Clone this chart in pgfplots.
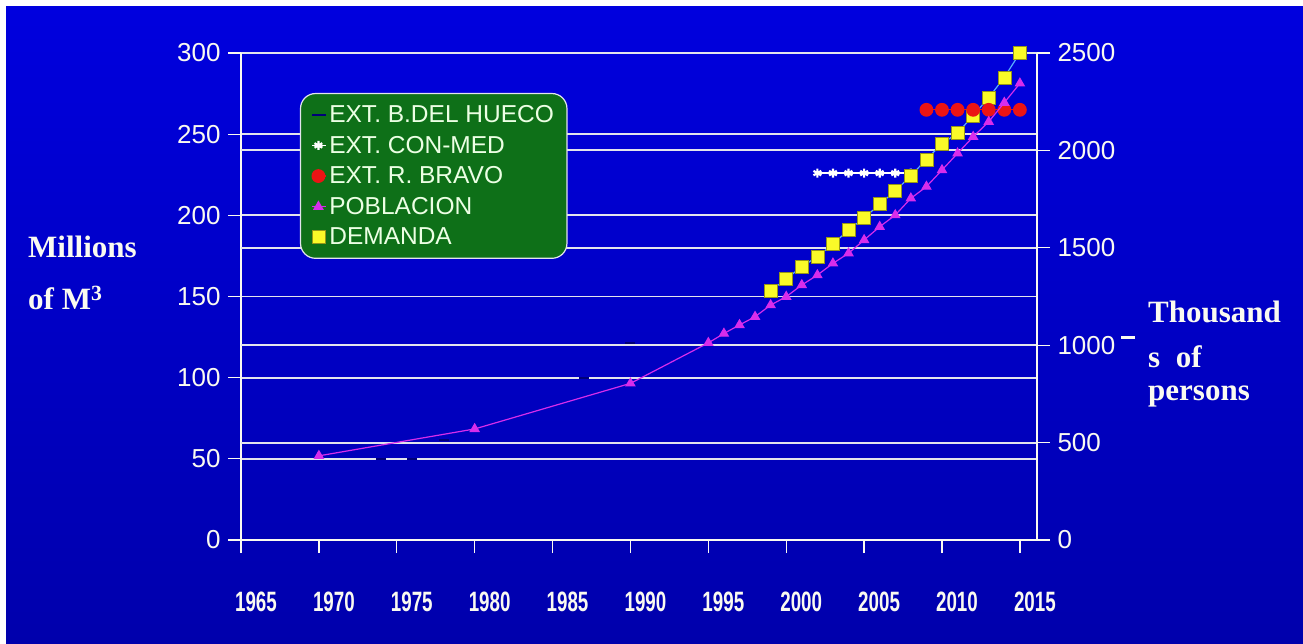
\documentclass[border=0pt]{standalone}
\usepackage{graphicx}
\usepackage{pgfplots}
\pgfplotsset{compat=1.18}
\usepackage{pgfplotstable}
\usepackage{fontspec}
\setmainfont{Liberation Sans}
\newfontfamily\serifbf{Liberation Serif}

\definecolor{bgtop}{RGB}{0,0,222}
\definecolor{bgmid}{RGB}{8,8,250}
\definecolor{bgbot}{RGB}{0,0,172}
\definecolor{gridc}{RGB}{226,228,236}
\definecolor{labc}{RGB}{250,250,240}
\definecolor{legbg}{RGB}{14,112,24}
\definecolor{legtxt}{RGB}{236,255,228}
\definecolor{huecoc}{RGB}{0,0,120}
\definecolor{bravoc}{RGB}{235,20,20}
\definecolor{poblc}{RGB}{215,45,235}
\definecolor{demc}{RGB}{250,250,40}
\definecolor{demline}{RGB}{90,175,255}

% Extraction, Bolson del Hueco (millions of m3)
\pgfplotstableread{
year value
1974 50
1976 50
1978 61.5
1987 100
1990 121.5
}\tblHueco
% Extraction, Conejos-Medanos (millions of m3)
\pgfplotstableread{
year value
2002 226
2003 226
2004 226
2005 226
2006 226
2007 226
2008 226
}\tblConMed
% Extraction, Rio Bravo (millions of m3)
\pgfplotstableread{
year value
2009 265
2010 265
2011 265
2012 265
2013 265
2014 265
2015 265
}\tblBravo
% Water demand (millions of m3)
\pgfplotstableread{
year value
1999 153.6
2000 160.8
2001 168.4
2002 174.5
2003 182.3
2004 191
2005 198.4
2006 206.8
2007 215
2008 224.4
2009 234.5
2010 244
2011 250.7
2012 261.5
2013 272.5
2014 285
2015 300
}\tblDemanda
% Population (thousands of persons)
\pgfplotstableread{
year value
1970 432
1980 570
1990 804
1995 1012
1996 1060
1997 1104
1998 1146
1999 1206
2000 1249
2001 1309
2002 1360
2003 1420
2004 1472
2005 1540
2006 1608
2007 1668
2008 1754
2009 1814
2010 1899
2011 1985
2012 2070
2013 2147
2014 2245
2015 2344
}\tblPoblacion

\pgfplotsset{
  chart/.style={
    scale only axis, width=796pt, height=487pt,
    at={(241pt,103pt)}, anchor=south west,
    xmin=1965, xmax=2016.1, ymin=0, clip=false,
    tick align=outside, major tick length=13pt,
    tick style={draw=labc, line width=1.3pt},
    axis line style={draw=labc, line width=1.5pt},
    ticklabel style={text=labc, font=\fontsize{26}{28}\selectfont},
    /pgf/number format/assume math mode=true,
    /pgf/number format/1000 sep={},
  },
  sHueco/.style={huecoc, only marks, mark=-, mark size=5pt, line width=1.8pt},
  sConMed/.style={white, line width=1.3pt, mark=asterisk, mark size=4.5pt,
    mark options={line width=2.2pt}},
  sBravo/.style={bravoc, line width=1.2pt, mark=*, mark size=6.3pt,
    mark options={draw=bravoc, fill=bravoc}},
  sPobl/.style={poblc, line width=1.2pt, mark=triangle*, mark size=5pt,
    mark options={draw=poblc, fill=poblc}},
  sDem/.style={demline, line width=1.2pt, mark=square*, mark size=6.5pt,
    mark options={draw=demc!60!black, fill=demc, line width=0.6pt}},
}

\begin{document}
\begin{tikzpicture}
\useasboundingbox (0,0) rectangle (1303pt,643pt);
\fill[white] (0,0) rectangle (1303pt,643pt);
\shade[top color=bgtop, middle color=bgmid, bottom color=bgbot]
  (6pt,0) rectangle (1303pt,636pt);

% left axis: millions of m3
\begin{axis}[chart,
  ymax=300, ytick={0,50,...,300},
  xtick={1965,1970,...,2015},
  axis y line*=left, axis x line*=bottom,
  ymajorgrids, grid style={draw=gridc, line width=1.8pt},
  extra y ticks={60,120,180,240},
  extra y tick labels={},
  extra y tick style={major tick length=0pt, grid=major},
  yticklabel style={xshift=-4pt},
  xticklabel={\scalebox{0.67}[1]{\fontsize{28}{30}\selectfont\bfseries\pgfmathprintnumber{\tick}}},
  xticklabel style={yshift=-35pt, xshift=15pt},
]
\addplot[sHueco] table[x=year, y=value] {\tblHueco};
\addplot[sConMed] table[x=year, y=value] {\tblConMed};
\addplot[sDem] table[x=year, y=value] {\tblDemanda};
\addplot[sBravo] table[x=year, y=value] {\tblBravo};
\end{axis}

% right axis: thousands of persons
\begin{axis}[chart,
  ymax=2500, ytick={0,500,...,2500},
  axis y line*=right, axis x line=none, xtick=\empty,
  yticklabel style={xshift=4pt},
  legend cell align=left,
  legend image code/.code={
    \draw[#1, mark=none] (0pt,0pt) -- (14pt,0pt);
    \draw[#1] plot coordinates {(6pt,0pt)};
  },
  legend style={at={(0.074,0.918)}, anchor=north west,
    fill=legbg, draw=gridc, line width=1.2pt, rounded corners=15pt,
    text=legtxt, font=\fontsize{24.5}{28}\selectfont,
    inner xsep=11pt, inner ysep=10pt, row sep=8pt},
]
\addlegendimage{sHueco}
\addlegendimage{sConMed}
\addlegendimage{sBravo}
\addplot[sPobl] table[x=year, y=value] {\tblPoblacion};
\addlegendimage{sDem}
\legend{EXT. B.DEL HUECO, EXT. CON-MED, EXT. R. BRAVO, POBLACION, DEMANDA}
\end{axis}

% axis titles
\begin{scope}[every node/.style={text=labc, inner sep=0pt,
    font=\serifbf\bfseries\fontsize{31}{33}\selectfont}]
\node[anchor=base west] at (28pt,385pt) {Millions};
\node[anchor=base west] at (28pt,333pt) {of M\textsuperscript{3}};
\node[anchor=base west] at (1148pt,320pt) {Thousand};
\node[anchor=base west] at (1148pt,275pt) {s\ \ of};
\node[anchor=base west] at (1148pt,243pt) {persons};
\end{scope}
\fill[labc] (1121pt,304pt) rectangle (1135pt,307pt);
\end{tikzpicture}
\end{document}
